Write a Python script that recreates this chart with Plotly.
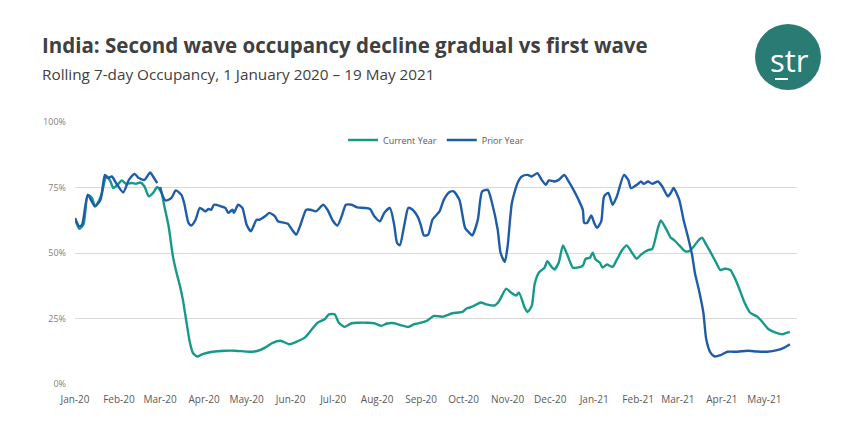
import plotly.graph_objects as go

# ---------------- data ----------------
current_dates = [
    "2020-01-01", "2020-01-04", "2020-01-07", "2020-01-10", "2020-01-13", "2020-01-15", "2020-01-17",
    "2020-01-20", "2020-01-23", "2020-01-26", "2020-01-28", "2020-01-31", "2020-02-03", "2020-02-06",
    "2020-02-10", "2020-02-13", "2020-02-16", "2020-02-19", "2020-02-22", "2020-02-25", "2020-02-28",
    "2020-03-02", "2020-03-04", "2020-03-07", "2020-03-10", "2020-03-12", "2020-03-15", "2020-03-17",
    "2020-03-20", "2020-03-22", "2020-03-24", "2020-03-27", "2020-03-31", "2020-04-07", "2020-04-16",
    "2020-04-23", "2020-05-03", "2020-05-09", "2020-05-14", "2020-05-19", "2020-05-25", "2020-05-31",
    "2020-06-05", "2020-06-11", "2020-06-16", "2020-06-20", "2020-06-25", "2020-06-28", "2020-07-02",
    "2020-07-05", "2020-07-09", "2020-07-14", "2020-07-19", "2020-07-25", "2020-07-30", "2020-08-04",
    "2020-08-08", "2020-08-13", "2020-08-18", "2020-08-23", "2020-08-27", "2020-09-01", "2020-09-05",
    "2020-09-10", "2020-09-16", "2020-09-23", "2020-09-30", "2020-10-03", "2020-10-07", "2020-10-13",
    "2020-10-17", "2020-10-23", "2020-10-26", "2020-10-31", "2020-11-03", "2020-11-07", "2020-11-09",
    "2020-11-13", "2020-11-15", "2020-11-18", "2020-11-20", "2020-11-23", "2020-11-27", "2020-11-29",
    "2020-12-02", "2020-12-04", "2020-12-07", "2020-12-10", "2020-12-13", "2020-12-17", "2020-12-20",
    "2020-12-24", "2020-12-26", "2020-12-29", "2020-12-31", "2021-01-02", "2021-01-05", "2021-01-07",
    "2021-01-10", "2021-01-14", "2021-01-17", "2021-01-21", "2021-01-24", "2021-01-27", "2021-01-31",
    "2021-02-03", "2021-02-08", "2021-02-11", "2021-02-15", "2021-02-17", "2021-02-21", "2021-02-24",
    "2021-02-26", "2021-03-02", "2021-03-06", "2021-03-09", "2021-03-12", "2021-03-15", "2021-03-18",
    "2021-03-21", "2021-03-25", "2021-03-28", "2021-03-31", "2021-04-03", "2021-04-07", "2021-04-10",
    "2021-04-13", "2021-04-17", "2021-04-21", "2021-04-26", "2021-04-30", "2021-05-04", "2021-05-09",
    "2021-05-14", "2021-05-17", "2021-05-19",
]
current_occ = [
    63.0, 59.2, 61.0, 72.2, 71.0, 67.8, 69.0,
    72.9, 79.5, 77.3, 74.8, 76.0, 77.7, 76.4,
    76.7, 76.4, 76.9, 75.4, 71.6, 72.9, 75.2,
    72.9, 67.8, 60.2, 48.8, 43.7, 37.4, 32.3,
    22.2, 15.8, 12.0, 10.5, 11.4, 12.3, 12.7,
    12.7, 12.3, 12.7, 13.9, 15.6, 16.5, 15.2,
    16.1, 17.7, 20.9, 23.4, 24.7, 26.6, 26.6,
    23.4, 21.8, 23.2, 23.4, 23.4, 23.2, 22.2,
    23.1, 23.2, 22.4, 21.8, 22.8, 23.4, 24.1,
    26.0, 25.7, 27.0, 27.5, 28.8, 29.5, 31.1,
    30.4, 30.0, 31.7, 36.4, 35.1, 33.8, 34.9,
    29.2, 27.5, 29.8, 38.0, 42.5, 44.4, 46.9,
    44.7, 43.7, 46.3, 52.9, 49.4, 44.4, 44.4,
    45.2, 47.8, 48.2, 50.1, 47.5, 46.3, 44.4,
    45.6, 44.7, 47.5, 51.3, 52.9, 50.7, 47.8,
    49.4, 51.1, 51.6, 59.6, 62.4, 58.9, 55.8,
    55.1, 52.9, 50.7, 50.7, 52.3, 54.5, 55.8,
    53.2, 49.4, 46.3, 43.5, 44.0, 43.5, 40.6,
    36.8, 31.1, 27.2, 25.7, 23.4, 20.9, 19.6,
    19.0, 19.6, 19.8,
]

prior_dates = [
    "2020-01-01", "2020-01-04", "2020-01-06", "2020-01-10", "2020-01-15", "2020-01-19", "2020-01-22",
    "2020-01-24", "2020-01-27", "2020-01-30", "2020-02-04", "2020-02-08", "2020-02-12", "2020-02-15",
    "2020-02-19", "2020-02-23", "2020-02-25", "2020-02-28", "2020-02-29", "2020-03-01", "2020-03-03",
    "2020-03-05", "2020-03-09", "2020-03-12", "2020-03-16", "2020-03-18", "2020-03-21", "2020-03-23",
    "2020-03-26", "2020-03-29", "2020-04-02", "2020-04-04", "2020-04-06", "2020-04-08", "2020-04-13",
    "2020-04-16", "2020-04-18", "2020-04-21", "2020-04-22", "2020-04-25", "2020-04-28", "2020-05-01",
    "2020-05-04", "2020-05-08", "2020-05-10", "2020-05-14", "2020-05-17", "2020-05-21", "2020-05-23",
    "2020-05-26", "2020-05-30", "2020-06-02", "2020-06-05", "2020-06-08", "2020-06-12", "2020-06-15",
    "2020-06-19", "2020-06-24", "2020-06-27", "2020-07-01", "2020-07-04", "2020-07-07", "2020-07-10",
    "2020-07-14", "2020-07-18", "2020-07-23", "2020-07-27", "2020-07-30", "2020-08-03", "2020-08-06",
    "2020-08-10", "2020-08-13", "2020-08-15", "2020-08-17", "2020-08-20", "2020-08-23", "2020-08-26",
    "2020-08-30", "2020-09-01", "2020-09-03", "2020-09-06", "2020-09-09", "2020-09-14", "2020-09-17",
    "2020-09-21", "2020-09-24", "2020-09-28", "2020-10-02", "2020-10-05", "2020-10-07", "2020-10-11",
    "2020-10-14", "2020-10-18", "2020-10-21", "2020-10-25", "2020-10-27", "2020-10-30", "2020-11-01",
    "2020-11-04", "2020-11-08", "2020-11-11", "2020-11-15", "2020-11-18", "2020-11-22", "2020-11-25",
    "2020-11-28", "2020-11-30", "2020-12-04", "2020-12-07", "2020-12-11", "2020-12-14", "2020-12-18",
    "2020-12-21", "2020-12-24", "2020-12-25", "2020-12-27", "2020-12-30", "2021-01-01", "2021-01-03",
    "2021-01-06", "2021-01-08", "2021-01-11", "2021-01-14", "2021-01-17", "2021-01-22", "2021-01-25",
    "2021-01-27", "2021-02-01", "2021-02-03", "2021-02-05", "2021-02-08", "2021-02-11", "2021-02-15",
    "2021-02-18", "2021-02-22", "2021-02-24", "2021-02-26", "2021-03-02", "2021-03-05", "2021-03-08",
    "2021-03-11", "2021-03-13", "2021-03-16", "2021-03-19", "2021-03-21", "2021-03-24", "2021-03-27",
    "2021-03-31", "2021-04-05", "2021-04-12", "2021-04-19", "2021-04-26", "2021-05-03", "2021-05-10",
    "2021-05-15", "2021-05-19",
]
prior_occ = [
    63.4, 60.2, 60.8, 72.2, 67.8, 70.3, 79.8,
    78.6, 79.2, 76.7, 73.1, 77.9, 80.2, 78.6,
    77.9, 80.7, 79.2, 76.7, None, 75.2, 71.6,
    70.0, 71.0, 73.9, 72.2, 69.0, 61.5, 60.5,
    62.7, 67.2, 65.9, 66.8, 66.5, 68.4, 67.8,
    67.2, 65.3, 66.5, 65.3, 68.4, 67.2, 60.8,
    58.3, 62.7, 62.7, 64.0, 65.3, 64.0, 62.1,
    61.7, 61.2, 58.9, 57.0, 60.8, 66.5, 66.5,
    65.9, 68.4, 66.5, 62.1, 60.5, 64.0, 68.4,
    68.4, 67.4, 67.2, 66.8, 64.0, 62.1, 65.3,
    67.2, 60.8, 53.9, 52.9, 60.2, 67.2, 66.5,
    63.4, 60.2, 56.7, 57.0, 62.7, 65.9, 70.3,
    73.3, 73.5, 70.3, 59.6, 57.7, 56.7, 62.7,
    73.5, 74.1, 69.1, 58.9, 50.1, 46.6, 52.6,
    69.1, 76.7, 79.2, 79.8, 79.2, 80.5, 77.9,
    76.0, 77.7, 77.3, 77.9, 79.8, 77.3, 73.5,
    70.3, 66.5, 61.5, 61.5, 64.3, 61.5, 59.6,
    62.1, 71.6, 72.9, 68.4, 71.6, 79.8, 77.9,
    74.8, 76.4, 77.3, 76.4, 77.3, 76.4, 77.3,
    75.4, 71.6, 72.9, 74.8, 70.3, 62.7, 56.4,
    49.4, 42.5, 35.5, 27.2, 17.1, 12.0, 10.5,
    11.0, 12.3, 12.3, 12.7, 12.4, 12.3, 12.9,
    13.9, 15.2,
]

series_names = ["Current Year", "Prior Year"]
y_ticks = [0, 25, 50, 75, 100]
y_tick_labels = ["0%", "25%", "50%", "75%", "100%"]

title_text = "India: Second wave occupancy decline gradual vs first wave"
subtitle_text = "Rolling 7-day Occupancy, 1 January 2020 \u2013 19 May 2021"

# ---------------- styling ----------------
TEAL = "#17998a"
BLUE = "#1e5ca8"
LOGO = "#2a7b73"
FONT = "Open Sans"

W, H = 864, 430
L, R, T, B = 75, 67, 122, 46
pw, ph = W - L - R, H - T - B


def px_x(px):
    return (px - L) / pw


def px_y(py):
    return (H - B - py) / ph


fig = go.Figure()
fig.add_trace(go.Scatter(
    x=current_dates, y=current_occ, name=series_names[0], mode="lines",
    line=dict(color=TEAL, width=2.4, shape="spline", smoothing=0.6),
))
fig.add_trace(go.Scatter(
    x=prior_dates, y=prior_occ, name=series_names[1], mode="lines",
    line=dict(color=BLUE, width=2.4, shape="spline", smoothing=0.6),
    connectgaps=False,
))

fig.update_layout(
    width=W, height=H,
    margin=dict(l=L, r=R, t=T, b=B),
    paper_bgcolor="white", plot_bgcolor="white",
    font=dict(family=FONT, color="#595959"),
    showlegend=True,
    legend=dict(
        orientation="h", x=0.5, xanchor="center", y=px_y(140), yanchor="middle",
        font=dict(size=9, color="#595959", family=FONT), bgcolor="rgba(0,0,0,0)",
        itemwidth=30, tracegroupgap=0,
    ),
    xaxis=dict(
        type="date", range=["2020-01-01", "2021-05-24"],
        dtick="M1", tick0="2020-01-01", tickformat="%b-%y",
        showgrid=False, zeroline=False, showline=False, ticks="",
        ticklabelstandoff=8,
        tickfont=dict(size=10, color="#595959", family=FONT),
    ),
    yaxis=dict(
        range=[0, 100], tickvals=y_ticks, ticktext=y_tick_labels,
        showgrid=True, gridcolor="#d9d9d9", gridwidth=1, zeroline=False,
        showline=False, ticks="", ticklabelstandoff=8,
        tickfont=dict(size=9, color="#7f7f7f", family=FONT),
    ),
)

# title and subtitle
fig.add_annotation(
    text="<b>" + title_text + "</b>", xref="paper", yref="paper",
    x=px_x(40), y=px_y(45), xanchor="left", yanchor="middle", showarrow=False,
    font=dict(size=20.5, color="#404040", family=FONT),
)
fig.add_annotation(
    text=subtitle_text, xref="paper", yref="paper",
    x=px_x(40), y=px_y(74), xanchor="left", yanchor="middle", showarrow=False,
    font=dict(size=15.3, color="#404040", family=FONT),
)

# STR logo
fig.add_shape(
    type="circle", xref="paper", yref="paper",
    x0=px_x(755), x1=px_x(821), y0=px_y(24), y1=px_y(90),
    fillcolor=LOGO, line=dict(width=0), layer="above",
)
fig.add_annotation(
    text="str", xref="paper", yref="paper",
    x=px_x(789), y=px_y(60), xanchor="center", yanchor="middle", showarrow=False,
    font=dict(size=31, color="white", family=FONT),
)
fig.add_shape(
    type="line", xref="paper", yref="paper",
    x0=px_x(775), x1=px_x(788), y0=px_y(79), y1=px_y(79),
    line=dict(color="white", width=2), layer="above",
)

fig.write_html("out.html")
